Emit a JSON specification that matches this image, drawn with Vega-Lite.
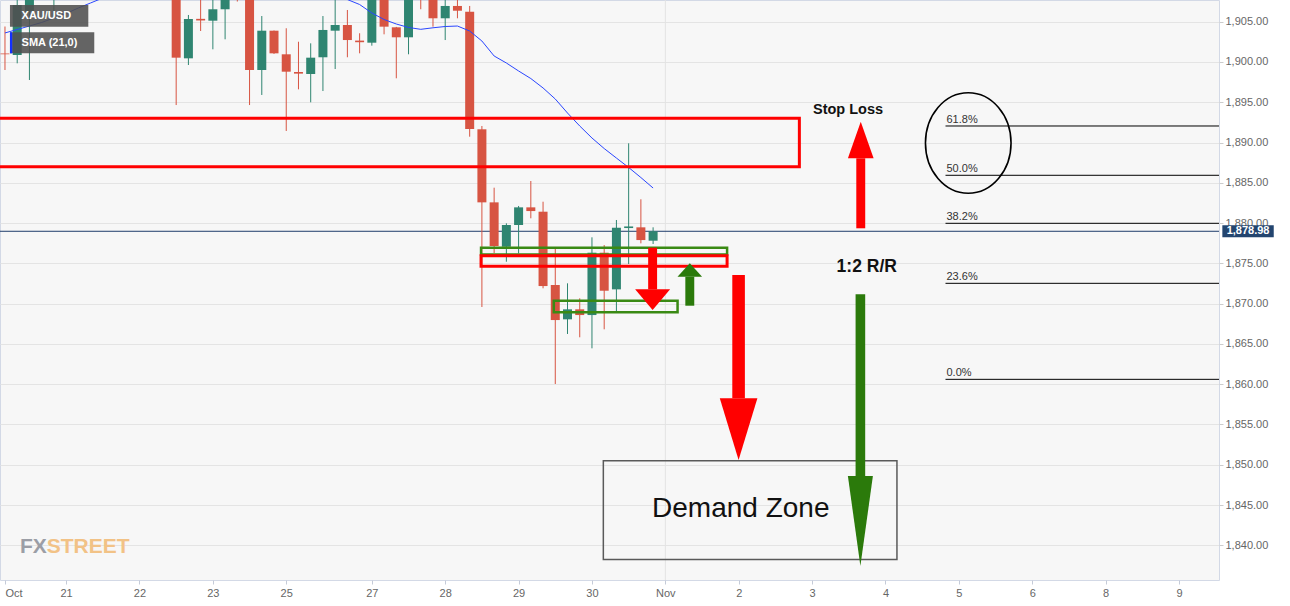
{
  "$schema": "https://vega.github.io/schema/vega-lite/v6.json",
  "width": 1219,
  "height": 580,
  "autosize": {"type": "none"},
  "padding": {"left": 0, "top": 0, "right": 71, "bottom": 26},
  "background": "#ffffff",
  "config": {
    "view": {"fill": "#f7f7f7", "stroke": "#d3d9e6", "strokeWidth": 1},
    "font": "Liberation Sans, Arial, sans-serif",
    "axis": {"domain": false, "tickSize": 4, "labelColor": "#666666", "labelFontSize": 11, "labelFont": "Liberation Sans, Arial, sans-serif"},
    "axisX": {"grid": false, "tickColor": "#c5cbd8", "labelPadding": 3},
    "axisY": {"grid": true, "gridColor": "#e4e4e4", "tickColor": "#cccccc", "labelPadding": 2}
  },
  "datasets": {
    "ohlc": [
      {"i": -1, "o": 1901.05, "h": 1904.4, "l": 1899.0, "c": 1900.95, "sma": 1903.6},
      {"i": 0, "o": 1900.86, "h": 1908.5, "l": 1899.83, "c": 1907.07, "sma": 1904.03},
      {"i": 1, "o": 1906.24, "h": 1910.0, "l": 1897.76, "c": 1909.0, "sma": 1904.46},
      {"i": 2, "o": 1909.0, "h": 1912.0, "l": 1908.2, "c": 1911.0, "sma": 1904.9},
      {"i": 3, "o": 1909.0, "h": 1913.5, "l": 1906.24, "c": 1912.0, "sma": 1905.46},
      {"i": 4, "o": 1912.0, "h": 1915.0, "l": 1910.0, "c": 1913.5, "sma": 1906.01},
      {"i": 5, "o": 1913.5, "h": 1917.0, "l": 1912.0, "c": 1915.0, "sma": 1906.7},
      {"i": 6, "o": 1915.0, "h": 1918.0, "l": 1913.0, "c": 1916.5, "sma": 1907.32},
      {"i": 7, "o": 1916.5, "h": 1919.0, "l": 1914.0, "c": 1915.0, "sma": 1907.94},
      {"i": 8, "o": 1915.0, "h": 1920.0, "l": 1913.0, "c": 1918.0, "sma": 1908.5},
      {"i": 9, "o": 1918.0, "h": 1921.0, "l": 1915.0, "c": 1916.0, "sma": 1909.0},
      {"i": 10, "o": 1916.0, "h": 1918.0, "l": 1911.0, "c": 1913.0, "sma": 1909.5},
      {"i": 11, "o": 1913.0, "h": 1917.0, "l": 1910.0, "c": 1915.0, "sma": 1909.8},
      {"i": 12, "o": 1915.0, "h": 1916.0, "l": 1909.0, "c": 1911.0, "sma": 1910.0},
      {"i": 13, "o": 1911.0, "h": 1912.5, "l": 1894.65, "c": 1900.53, "sma": 1910.1},
      {"i": 14, "o": 1900.45, "h": 1905.83, "l": 1899.62, "c": 1905.33, "sma": 1910.1},
      {"i": 15, "o": 1905.35, "h": 1907.8, "l": 1903.84, "c": 1905.15, "sma": 1910.0},
      {"i": 16, "o": 1905.12, "h": 1908.0, "l": 1901.57, "c": 1906.54, "sma": 1909.9},
      {"i": 17, "o": 1906.54, "h": 1909.5, "l": 1902.81, "c": 1908.5, "sma": 1909.8},
      {"i": 18, "o": 1911.0, "h": 1912.0, "l": 1907.5, "c": 1910.0, "sma": 1909.6},
      {"i": 19, "o": 1909.5, "h": 1910.5, "l": 1894.65, "c": 1899.0, "sma": 1909.4},
      {"i": 20, "o": 1899.0, "h": 1905.7, "l": 1895.9, "c": 1903.88, "sma": 1909.2},
      {"i": 21, "o": 1903.88, "h": 1903.9, "l": 1901.0, "c": 1901.07, "sma": 1909.0},
      {"i": 22, "o": 1900.95, "h": 1904.18, "l": 1891.43, "c": 1898.79, "sma": 1908.8},
      {"i": 23, "o": 1898.75, "h": 1902.51, "l": 1896.6, "c": 1898.55, "sma": 1908.6},
      {"i": 24, "o": 1898.5, "h": 1902.31, "l": 1894.99, "c": 1900.53, "sma": 1908.4},
      {"i": 25, "o": 1900.58, "h": 1905.7, "l": 1896.39, "c": 1903.97, "sma": 1908.2},
      {"i": 26, "o": 1903.88, "h": 1908.0, "l": 1899.12, "c": 1904.59, "sma": 1907.95},
      {"i": 27, "o": 1904.59, "h": 1906.45, "l": 1900.58, "c": 1902.72, "sma": 1907.75},
      {"i": 28, "o": 1902.65, "h": 1903.56, "l": 1901.07, "c": 1902.45, "sma": 1907.13},
      {"i": 29, "o": 1902.39, "h": 1909.5, "l": 1902.02, "c": 1908.5, "sma": 1906.08},
      {"i": 30, "o": 1909.0, "h": 1910.0, "l": 1903.43, "c": 1904.38, "sma": 1905.27},
      {"i": 31, "o": 1904.3, "h": 1904.35, "l": 1897.97, "c": 1903.06, "sma": 1904.71},
      {"i": 32, "o": 1903.06, "h": 1909.5, "l": 1900.95, "c": 1908.5, "sma": 1904.28},
      {"i": 33, "o": 1910.0, "h": 1911.0, "l": 1906.54, "c": 1908.3, "sma": 1904.05},
      {"i": 34, "o": 1908.5, "h": 1909.0, "l": 1904.38, "c": 1905.42, "sma": 1904.24},
      {"i": 35, "o": 1905.42, "h": 1908.0, "l": 1902.72, "c": 1906.95, "sma": 1904.4},
      {"i": 36, "o": 1906.95, "h": 1907.9, "l": 1905.42, "c": 1906.36, "sma": 1904.46},
      {"i": 37, "o": 1906.24, "h": 1906.95, "l": 1890.72, "c": 1891.67, "sma": 1903.84},
      {"i": 38, "o": 1891.64, "h": 1892.05, "l": 1869.58, "c": 1882.57, "sma": 1902.6},
      {"i": 39, "o": 1882.57, "h": 1884.39, "l": 1876.28, "c": 1877.15, "sma": 1900.74},
      {"i": 40, "o": 1877.06, "h": 1879.97, "l": 1875.2, "c": 1879.76, "sma": 1899.87},
      {"i": 41, "o": 1879.76, "h": 1882.12, "l": 1876.24, "c": 1881.95, "sma": 1898.88},
      {"i": 42, "o": 1881.95, "h": 1885.22, "l": 1880.59, "c": 1881.49, "sma": 1897.94},
      {"i": 43, "o": 1881.41, "h": 1882.65, "l": 1871.9, "c": 1872.18, "sma": 1896.77},
      {"i": 44, "o": 1872.31, "h": 1876.86, "l": 1860.02, "c": 1867.96, "sma": 1895.4},
      {"i": 45, "o": 1868.05, "h": 1872.52, "l": 1866.23, "c": 1869.29, "sma": 1893.66},
      {"i": 46, "o": 1869.29, "h": 1870.66, "l": 1865.82, "c": 1868.58, "sma": 1892.05},
      {"i": 47, "o": 1868.58, "h": 1878.23, "l": 1864.45, "c": 1876.32, "sma": 1890.56},
      {"i": 48, "o": 1876.32, "h": 1877.27, "l": 1866.81, "c": 1871.6, "sma": 1889.25},
      {"i": 49, "o": 1871.77, "h": 1880.38, "l": 1868.99, "c": 1879.42, "sma": 1888.07},
      {"i": 50, "o": 1879.38, "h": 1889.9, "l": 1874.92, "c": 1879.58, "sma": 1886.9},
      {"i": 51, "o": 1879.47, "h": 1882.95, "l": 1877.48, "c": 1877.89, "sma": 1885.65},
      {"i": 52, "o": 1877.81, "h": 1879.47, "l": 1877.4, "c": 1878.98, "sma": 1884.35}
    ],
    "last": [{"price": 1878.98}],
    "fib": [
      {"level": "61.8%", "price": 1892.05},
      {"level": "50.0%", "price": 1885.93},
      {"level": "38.2%", "price": 1879.97},
      {"level": "23.6%", "price": 1872.52},
      {"level": "0.0%", "price": 1860.6}
    ],
    "boxes": [
      {"box": "resistance", "kind": "red", "x1": -3, "x2": 63.96, "y1": 1887.0, "y2": 1893.0},
      {"box": "upper", "kind": "green", "x1": 37.93, "x2": 58.05, "y1": 1876.1, "y2": 1876.94},
      {"box": "mid", "kind": "red", "x1": 37.93, "x2": 58.05, "y1": 1874.65, "y2": 1875.95},
      {"box": "lower", "kind": "green", "x1": 43.88, "x2": 54.0, "y1": 1868.92, "y2": 1870.36},
      {"box": "demand", "kind": "zone", "x1": 47.93, "x2": 71.94, "y1": 1838.25, "y2": 1850.5}
    ],
    "shafts": [
      {"arrow": "smallRed", "kind": "red", "x1": 51.595, "x2": 52.325, "y1": 1871.77, "y2": 1876.94},
      {"arrow": "smallGreen", "kind": "green", "x1": 54.635, "x2": 55.365, "y1": 1869.74, "y2": 1873.34},
      {"arrow": "bigRed", "kind": "red", "x1": 58.475, "x2": 59.505, "y1": 1858.24, "y2": 1873.55},
      {"arrow": "bigGreen", "kind": "green", "x1": 68.557, "x2": 69.343, "y1": 1848.6, "y2": 1871.15},
      {"arrow": "stopUp", "kind": "red", "x1": 68.615, "x2": 69.345, "y1": 1879.35, "y2": 1888.04}
    ],
    "heads": [
      {"arrow": "smallRed", "x": 51.96, "y": 1870.49},
      {"arrow": "smallGreen", "x": 55.0, "y": 1874.17},
      {"arrow": "bigRed", "x": 58.99, "y": 1854.41},
      {"arrow": "bigGreen", "x": 68.95, "y": 1843.01},
      {"arrow": "stopUp", "x": 68.98, "y": 1890.31}
    ],
    "notes": [
      {"label": "Stop Loss", "x": 67.94, "y": 1894.03},
      {"label": "1:2 R/R", "x": 69.47, "y": 1874.54},
      {"label": "Demand Zone", "x": 59.17, "y": 1844.46}
    ],
    "panes": [
      {"pane": "XAU/USD", "x1": -0.592, "x2": 5.815, "y1": 1904.38, "y2": 1907.07, "tx": 0.357, "ty": 1905.7},
      {"pane": "SMA (21,0)", "x1": -0.592, "x2": 6.302, "y1": 1901.07, "y2": 1903.68, "tx": 0.357, "ty": 1902.35}
    ],
    "logo": [
      {"t": "FX", "part": "fx", "x": 0.219},
      {"t": "STREET", "part": "street", "x": 2.41}
    ]
  },
  "layer": [
    {
      "data": {"values": [{}]},
      "mark": {"type": "rule", "color": "#e3e3e3", "strokeWidth": 1},
      "encoding": {
        "x": {"datum": 53, "type": "quantitative", "scale": {"domain": [-0.998, 97.866], "nice": false, "zero": false},
          "axis": {"title": null, "labelAlign": {"condition": {"test": "datum.value < 0", "value": "left"}, "value": "center"}, "values": [-0.998, 4, 10, 16, 22, 29, 35, 41, 47, 53, 59, 65, 71, 77, 83, 89, 95], "labelExpr": "datum.value < 0 ? 'Oct' : datum.value == 4 ? '21' : datum.value == 10 ? '22' : datum.value == 16 ? '23' : datum.value == 22 ? '25' : datum.value == 29 ? '27' : datum.value == 35 ? '28' : datum.value == 41 ? '29' : datum.value == 47 ? '30' : datum.value == 53 ? 'Nov' : datum.value == 59 ? '2' : datum.value == 65 ? '3' : datum.value == 71 ? '4' : datum.value == 77 ? '5' : datum.value == 83 ? '6' : datum.value == 89 ? '8' : '9'"}}
      }
    },
    {
      "data": {"name": "last"},
      "mark": {"type": "rule", "color": "#1f3d6b", "strokeWidth": 1},
      "encoding": {
        "y": {"field": "price", "type": "quantitative", "scale": {"domain": [1835.69, 1907.69], "nice": false, "zero": false},
          "axis": {"title": null, "orient": "right", "values": [1840, 1845, 1850, 1855, 1860, 1865, 1870, 1875, 1880, 1885, 1890, 1895, 1900, 1905], "format": ",.2f"}}
      }
    },
    {
      "data": {"name": "ohlc"},
      "mark": {"type": "rule", "strokeWidth": 1, "clip": true},
      "encoding": {
        "x": {"field": "i", "type": "quantitative", "scale": {"domain": [-0.998, 97.866], "nice": false, "zero": false},
          "axis": {"title": null, "labelAlign": {"condition": {"test": "datum.value < 0", "value": "left"}, "value": "center"}, "values": [-0.998, 4, 10, 16, 22, 29, 35, 41, 47, 53, 59, 65, 71, 77, 83, 89, 95], "labelExpr": "datum.value < 0 ? 'Oct' : datum.value == 4 ? '21' : datum.value == 10 ? '22' : datum.value == 16 ? '23' : datum.value == 22 ? '25' : datum.value == 29 ? '27' : datum.value == 35 ? '28' : datum.value == 41 ? '29' : datum.value == 47 ? '30' : datum.value == 53 ? 'Nov' : datum.value == 59 ? '2' : datum.value == 65 ? '3' : datum.value == 71 ? '4' : datum.value == 77 ? '5' : datum.value == 83 ? '6' : datum.value == 89 ? '8' : '9'"}},
        "y": {"field": "l", "type": "quantitative", "scale": {"domain": [1835.69, 1907.69], "nice": false, "zero": false},
          "axis": {"title": null, "orient": "right", "values": [1840, 1845, 1850, 1855, 1860, 1865, 1870, 1875, 1880, 1885, 1890, 1895, 1900, 1905], "format": ",.2f"}},
        "y2": {"field": "h"},
        "color": {"condition": {"test": "datum.c >= datum.o", "value": "#2f8571"}, "value": "#d75442"}
      }
    },
    {
      "data": {"name": "ohlc"},
      "mark": {"type": "bar", "size": 9, "clip": true},
      "encoding": {
        "x": {"field": "i", "type": "quantitative", "scale": {"domain": [-0.998, 97.866], "nice": false, "zero": false},
          "axis": {"title": null, "labelAlign": {"condition": {"test": "datum.value < 0", "value": "left"}, "value": "center"}, "values": [-0.998, 4, 10, 16, 22, 29, 35, 41, 47, 53, 59, 65, 71, 77, 83, 89, 95], "labelExpr": "datum.value < 0 ? 'Oct' : datum.value == 4 ? '21' : datum.value == 10 ? '22' : datum.value == 16 ? '23' : datum.value == 22 ? '25' : datum.value == 29 ? '27' : datum.value == 35 ? '28' : datum.value == 41 ? '29' : datum.value == 47 ? '30' : datum.value == 53 ? 'Nov' : datum.value == 59 ? '2' : datum.value == 65 ? '3' : datum.value == 71 ? '4' : datum.value == 77 ? '5' : datum.value == 83 ? '6' : datum.value == 89 ? '8' : '9'"}},
        "y": {"field": "o", "type": "quantitative", "scale": {"domain": [1835.69, 1907.69], "nice": false, "zero": false},
          "axis": {"title": null, "orient": "right", "values": [1840, 1845, 1850, 1855, 1860, 1865, 1870, 1875, 1880, 1885, 1890, 1895, 1900, 1905], "format": ",.2f"}},
        "y2": {"field": "c"},
        "color": {"condition": {"test": "datum.c >= datum.o", "value": "#2f8571"}, "value": "#d75442"}
      }
    },
    {
      "data": {"name": "ohlc"},
      "mark": {"type": "line", "color": "#2a46ff", "strokeWidth": 1, "clip": true},
      "encoding": {
        "x": {"field": "i", "type": "quantitative", "scale": {"domain": [-0.998, 97.866], "nice": false, "zero": false},
          "axis": {"title": null, "labelAlign": {"condition": {"test": "datum.value < 0", "value": "left"}, "value": "center"}, "values": [-0.998, 4, 10, 16, 22, 29, 35, 41, 47, 53, 59, 65, 71, 77, 83, 89, 95], "labelExpr": "datum.value < 0 ? 'Oct' : datum.value == 4 ? '21' : datum.value == 10 ? '22' : datum.value == 16 ? '23' : datum.value == 22 ? '25' : datum.value == 29 ? '27' : datum.value == 35 ? '28' : datum.value == 41 ? '29' : datum.value == 47 ? '30' : datum.value == 53 ? 'Nov' : datum.value == 59 ? '2' : datum.value == 65 ? '3' : datum.value == 71 ? '4' : datum.value == 77 ? '5' : datum.value == 83 ? '6' : datum.value == 89 ? '8' : '9'"}},
        "y": {"field": "sma", "type": "quantitative", "scale": {"domain": [1835.69, 1907.69], "nice": false, "zero": false},
          "axis": {"title": null, "orient": "right", "values": [1840, 1845, 1850, 1855, 1860, 1865, 1870, 1875, 1880, 1885, 1890, 1895, 1900, 1905], "format": ",.2f"}}
      }
    },
    {
      "data": {"name": "fib"},
      "mark": {"type": "rule", "color": "#000000", "strokeWidth": 1, "clip": true},
      "encoding": {
        "x": {"datum": 75.91, "type": "quantitative", "scale": {"domain": [-0.998, 97.866], "nice": false, "zero": false},
          "axis": {"title": null, "labelAlign": {"condition": {"test": "datum.value < 0", "value": "left"}, "value": "center"}, "values": [-0.998, 4, 10, 16, 22, 29, 35, 41, 47, 53, 59, 65, 71, 77, 83, 89, 95], "labelExpr": "datum.value < 0 ? 'Oct' : datum.value == 4 ? '21' : datum.value == 10 ? '22' : datum.value == 16 ? '23' : datum.value == 22 ? '25' : datum.value == 29 ? '27' : datum.value == 35 ? '28' : datum.value == 41 ? '29' : datum.value == 47 ? '30' : datum.value == 53 ? 'Nov' : datum.value == 59 ? '2' : datum.value == 65 ? '3' : datum.value == 71 ? '4' : datum.value == 77 ? '5' : datum.value == 83 ? '6' : datum.value == 89 ? '8' : '9'"}},
        "x2": {"datum": 99},
        "y": {"field": "price", "type": "quantitative", "scale": {"domain": [1835.69, 1907.69], "nice": false, "zero": false},
          "axis": {"title": null, "orient": "right", "values": [1840, 1845, 1850, 1855, 1860, 1865, 1870, 1875, 1880, 1885, 1890, 1895, 1900, 1905], "format": ",.2f"}}
      }
    },
    {
      "data": {"name": "fib"},
      "mark": {"type": "text", "align": "left", "baseline": "bottom", "dy": -1, "fontSize": 11, "color": "#333333"},
      "encoding": {
        "x": {"datum": 75.99, "type": "quantitative", "scale": {"domain": [-0.998, 97.866], "nice": false, "zero": false},
          "axis": {"title": null, "labelAlign": {"condition": {"test": "datum.value < 0", "value": "left"}, "value": "center"}, "values": [-0.998, 4, 10, 16, 22, 29, 35, 41, 47, 53, 59, 65, 71, 77, 83, 89, 95], "labelExpr": "datum.value < 0 ? 'Oct' : datum.value == 4 ? '21' : datum.value == 10 ? '22' : datum.value == 16 ? '23' : datum.value == 22 ? '25' : datum.value == 29 ? '27' : datum.value == 35 ? '28' : datum.value == 41 ? '29' : datum.value == 47 ? '30' : datum.value == 53 ? 'Nov' : datum.value == 59 ? '2' : datum.value == 65 ? '3' : datum.value == 71 ? '4' : datum.value == 77 ? '5' : datum.value == 83 ? '6' : datum.value == 89 ? '8' : '9'"}},
        "y": {"field": "price", "type": "quantitative", "scale": {"domain": [1835.69, 1907.69], "nice": false, "zero": false},
          "axis": {"title": null, "orient": "right", "values": [1840, 1845, 1850, 1855, 1860, 1865, 1870, 1875, 1880, 1885, 1890, 1895, 1900, 1905], "format": ",.2f"}},
        "text": {"field": "level"}
      }
    },
    {
      "data": {"name": "boxes"},
      "mark": {"type": "rect", "filled": false, "clip": true},
      "encoding": {
        "x": {"field": "x1", "type": "quantitative", "scale": {"domain": [-0.998, 97.866], "nice": false, "zero": false},
          "axis": {"title": null, "labelAlign": {"condition": {"test": "datum.value < 0", "value": "left"}, "value": "center"}, "values": [-0.998, 4, 10, 16, 22, 29, 35, 41, 47, 53, 59, 65, 71, 77, 83, 89, 95], "labelExpr": "datum.value < 0 ? 'Oct' : datum.value == 4 ? '21' : datum.value == 10 ? '22' : datum.value == 16 ? '23' : datum.value == 22 ? '25' : datum.value == 29 ? '27' : datum.value == 35 ? '28' : datum.value == 41 ? '29' : datum.value == 47 ? '30' : datum.value == 53 ? 'Nov' : datum.value == 59 ? '2' : datum.value == 65 ? '3' : datum.value == 71 ? '4' : datum.value == 77 ? '5' : datum.value == 83 ? '6' : datum.value == 89 ? '8' : '9'"}},
        "x2": {"field": "x2"},
        "y": {"field": "y1", "type": "quantitative", "scale": {"domain": [1835.69, 1907.69], "nice": false, "zero": false},
          "axis": {"title": null, "orient": "right", "values": [1840, 1845, 1850, 1855, 1860, 1865, 1870, 1875, 1880, 1885, 1890, 1895, 1900, 1905], "format": ",.2f"}},
        "y2": {"field": "y2"},
        "stroke": {"condition": [{"test": "datum.kind == 'red'", "value": "#ff0000"}, {"test": "datum.kind == 'green'", "value": "#3a8a14"}], "value": "#5a5a5a"},
        "strokeWidth": {"condition": [{"test": "datum.kind == 'red'", "value": 3}, {"test": "datum.kind == 'green'", "value": 2.5}], "value": 1.5}
      }
    },
    {
      "data": {"name": "shafts"},
      "mark": {"type": "rect"},
      "encoding": {
        "x": {"field": "x1", "type": "quantitative", "scale": {"domain": [-0.998, 97.866], "nice": false, "zero": false},
          "axis": {"title": null, "labelAlign": {"condition": {"test": "datum.value < 0", "value": "left"}, "value": "center"}, "values": [-0.998, 4, 10, 16, 22, 29, 35, 41, 47, 53, 59, 65, 71, 77, 83, 89, 95], "labelExpr": "datum.value < 0 ? 'Oct' : datum.value == 4 ? '21' : datum.value == 10 ? '22' : datum.value == 16 ? '23' : datum.value == 22 ? '25' : datum.value == 29 ? '27' : datum.value == 35 ? '28' : datum.value == 41 ? '29' : datum.value == 47 ? '30' : datum.value == 53 ? 'Nov' : datum.value == 59 ? '2' : datum.value == 65 ? '3' : datum.value == 71 ? '4' : datum.value == 77 ? '5' : datum.value == 83 ? '6' : datum.value == 89 ? '8' : '9'"}},
        "x2": {"field": "x2"},
        "y": {"field": "y1", "type": "quantitative", "scale": {"domain": [1835.69, 1907.69], "nice": false, "zero": false},
          "axis": {"title": null, "orient": "right", "values": [1840, 1845, 1850, 1855, 1860, 1865, 1870, 1875, 1880, 1885, 1890, 1895, 1900, 1905], "format": ",.2f"}},
        "y2": {"field": "y2"},
        "color": {"condition": {"test": "datum.kind == 'red'", "value": "#ff0000"}, "value": "#2b7a0b"}
      }
    },
    {
      "data": {"name": "heads"},
      "transform": [{"filter": "datum.arrow == 'smallRed'"}],
      "mark": {"type": "point", "shape": "M -1 -0.591 L 1 -0.591 L 0 0.591 Z", "size": 1225, "filled": true, "color": "#ff0000", "opacity": 1},
      "encoding": {
        "x": {"field": "x", "type": "quantitative", "scale": {"domain": [-0.998, 97.866], "nice": false, "zero": false},
          "axis": {"title": null, "labelAlign": {"condition": {"test": "datum.value < 0", "value": "left"}, "value": "center"}, "values": [-0.998, 4, 10, 16, 22, 29, 35, 41, 47, 53, 59, 65, 71, 77, 83, 89, 95], "labelExpr": "datum.value < 0 ? 'Oct' : datum.value == 4 ? '21' : datum.value == 10 ? '22' : datum.value == 16 ? '23' : datum.value == 22 ? '25' : datum.value == 29 ? '27' : datum.value == 35 ? '28' : datum.value == 41 ? '29' : datum.value == 47 ? '30' : datum.value == 53 ? 'Nov' : datum.value == 59 ? '2' : datum.value == 65 ? '3' : datum.value == 71 ? '4' : datum.value == 77 ? '5' : datum.value == 83 ? '6' : datum.value == 89 ? '8' : '9'"}},
        "y": {"field": "y", "type": "quantitative", "scale": {"domain": [1835.69, 1907.69], "nice": false, "zero": false},
          "axis": {"title": null, "orient": "right", "values": [1840, 1845, 1850, 1855, 1860, 1865, 1870, 1875, 1880, 1885, 1890, 1895, 1900, 1905], "format": ",.2f"}}
      }
    },
    {
      "data": {"name": "heads"},
      "transform": [{"filter": "datum.arrow == 'smallGreen'"}],
      "mark": {"type": "point", "shape": "M -1 0.545 L 1 0.545 L 0 -0.545 Z", "size": 605, "filled": true, "color": "#2b7a0b", "opacity": 1},
      "encoding": {
        "x": {"field": "x", "type": "quantitative", "scale": {"domain": [-0.998, 97.866], "nice": false, "zero": false},
          "axis": {"title": null, "labelAlign": {"condition": {"test": "datum.value < 0", "value": "left"}, "value": "center"}, "values": [-0.998, 4, 10, 16, 22, 29, 35, 41, 47, 53, 59, 65, 71, 77, 83, 89, 95], "labelExpr": "datum.value < 0 ? 'Oct' : datum.value == 4 ? '21' : datum.value == 10 ? '22' : datum.value == 16 ? '23' : datum.value == 22 ? '25' : datum.value == 29 ? '27' : datum.value == 35 ? '28' : datum.value == 41 ? '29' : datum.value == 47 ? '30' : datum.value == 53 ? 'Nov' : datum.value == 59 ? '2' : datum.value == 65 ? '3' : datum.value == 71 ? '4' : datum.value == 77 ? '5' : datum.value == 83 ? '6' : datum.value == 89 ? '8' : '9'"}},
        "y": {"field": "y", "type": "quantitative", "scale": {"domain": [1835.69, 1907.69], "nice": false, "zero": false},
          "axis": {"title": null, "orient": "right", "values": [1840, 1845, 1850, 1855, 1860, 1865, 1870, 1875, 1880, 1885, 1890, 1895, 1900, 1905], "format": ",.2f"}}
      }
    },
    {
      "data": {"name": "heads"},
      "transform": [{"filter": "datum.arrow == 'bigRed'"}],
      "mark": {"type": "point", "shape": "M -1 -1.641 L 1 -1.641 L 0 1.641 Z", "size": 1414, "filled": true, "color": "#ff0000", "opacity": 1},
      "encoding": {
        "x": {"field": "x", "type": "quantitative", "scale": {"domain": [-0.998, 97.866], "nice": false, "zero": false},
          "axis": {"title": null, "labelAlign": {"condition": {"test": "datum.value < 0", "value": "left"}, "value": "center"}, "values": [-0.998, 4, 10, 16, 22, 29, 35, 41, 47, 53, 59, 65, 71, 77, 83, 89, 95], "labelExpr": "datum.value < 0 ? 'Oct' : datum.value == 4 ? '21' : datum.value == 10 ? '22' : datum.value == 16 ? '23' : datum.value == 22 ? '25' : datum.value == 29 ? '27' : datum.value == 35 ? '28' : datum.value == 41 ? '29' : datum.value == 47 ? '30' : datum.value == 53 ? 'Nov' : datum.value == 59 ? '2' : datum.value == 65 ? '3' : datum.value == 71 ? '4' : datum.value == 77 ? '5' : datum.value == 83 ? '6' : datum.value == 89 ? '8' : '9'"}},
        "y": {"field": "y", "type": "quantitative", "scale": {"domain": [1835.69, 1907.69], "nice": false, "zero": false},
          "axis": {"title": null, "orient": "right", "values": [1840, 1845, 1850, 1855, 1860, 1865, 1870, 1875, 1880, 1885, 1890, 1895, 1900, 1905], "format": ",.2f"}}
      }
    },
    {
      "data": {"name": "heads"},
      "transform": [{"filter": "datum.arrow == 'bigGreen'"}],
      "mark": {"type": "point", "shape": "M -1 -3.6 L 1 -3.6 L 0 3.6 Z", "size": 625, "filled": true, "color": "#2b7a0b", "opacity": 1},
      "encoding": {
        "x": {"field": "x", "type": "quantitative", "scale": {"domain": [-0.998, 97.866], "nice": false, "zero": false},
          "axis": {"title": null, "labelAlign": {"condition": {"test": "datum.value < 0", "value": "left"}, "value": "center"}, "values": [-0.998, 4, 10, 16, 22, 29, 35, 41, 47, 53, 59, 65, 71, 77, 83, 89, 95], "labelExpr": "datum.value < 0 ? 'Oct' : datum.value == 4 ? '21' : datum.value == 10 ? '22' : datum.value == 16 ? '23' : datum.value == 22 ? '25' : datum.value == 29 ? '27' : datum.value == 35 ? '28' : datum.value == 41 ? '29' : datum.value == 47 ? '30' : datum.value == 53 ? 'Nov' : datum.value == 59 ? '2' : datum.value == 65 ? '3' : datum.value == 71 ? '4' : datum.value == 77 ? '5' : datum.value == 83 ? '6' : datum.value == 89 ? '8' : '9'"}},
        "y": {"field": "y", "type": "quantitative", "scale": {"domain": [1835.69, 1907.69], "nice": false, "zero": false},
          "axis": {"title": null, "orient": "right", "values": [1840, 1845, 1850, 1855, 1860, 1865, 1870, 1875, 1880, 1885, 1890, 1895, 1900, 1905], "format": ",.2f"}}
      }
    },
    {
      "data": {"name": "heads"},
      "transform": [{"filter": "datum.arrow == 'stopUp'"}],
      "mark": {"type": "point", "shape": "M -1 1.424 L 1 1.424 L 0 -1.424 Z", "size": 660, "filled": true, "color": "#ff0000", "opacity": 1},
      "encoding": {
        "x": {"field": "x", "type": "quantitative", "scale": {"domain": [-0.998, 97.866], "nice": false, "zero": false},
          "axis": {"title": null, "labelAlign": {"condition": {"test": "datum.value < 0", "value": "left"}, "value": "center"}, "values": [-0.998, 4, 10, 16, 22, 29, 35, 41, 47, 53, 59, 65, 71, 77, 83, 89, 95], "labelExpr": "datum.value < 0 ? 'Oct' : datum.value == 4 ? '21' : datum.value == 10 ? '22' : datum.value == 16 ? '23' : datum.value == 22 ? '25' : datum.value == 29 ? '27' : datum.value == 35 ? '28' : datum.value == 41 ? '29' : datum.value == 47 ? '30' : datum.value == 53 ? 'Nov' : datum.value == 59 ? '2' : datum.value == 65 ? '3' : datum.value == 71 ? '4' : datum.value == 77 ? '5' : datum.value == 83 ? '6' : datum.value == 89 ? '8' : '9'"}},
        "y": {"field": "y", "type": "quantitative", "scale": {"domain": [1835.69, 1907.69], "nice": false, "zero": false},
          "axis": {"title": null, "orient": "right", "values": [1840, 1845, 1850, 1855, 1860, 1865, 1870, 1875, 1880, 1885, 1890, 1895, 1900, 1905], "format": ",.2f"}}
      }
    },
    {
      "data": {"name": "notes"},
      "transform": [{"filter": "datum.label == 'Stop Loss'"}],
      "mark": {"type": "text", "fontSize": 14.5, "fontWeight": "bold", "color": "#111111", "align": "center", "baseline": "middle"},
      "encoding": {
        "x": {"field": "x", "type": "quantitative", "scale": {"domain": [-0.998, 97.866], "nice": false, "zero": false},
          "axis": {"title": null, "labelAlign": {"condition": {"test": "datum.value < 0", "value": "left"}, "value": "center"}, "values": [-0.998, 4, 10, 16, 22, 29, 35, 41, 47, 53, 59, 65, 71, 77, 83, 89, 95], "labelExpr": "datum.value < 0 ? 'Oct' : datum.value == 4 ? '21' : datum.value == 10 ? '22' : datum.value == 16 ? '23' : datum.value == 22 ? '25' : datum.value == 29 ? '27' : datum.value == 35 ? '28' : datum.value == 41 ? '29' : datum.value == 47 ? '30' : datum.value == 53 ? 'Nov' : datum.value == 59 ? '2' : datum.value == 65 ? '3' : datum.value == 71 ? '4' : datum.value == 77 ? '5' : datum.value == 83 ? '6' : datum.value == 89 ? '8' : '9'"}},
        "y": {"field": "y", "type": "quantitative", "scale": {"domain": [1835.69, 1907.69], "nice": false, "zero": false},
          "axis": {"title": null, "orient": "right", "values": [1840, 1845, 1850, 1855, 1860, 1865, 1870, 1875, 1880, 1885, 1890, 1895, 1900, 1905], "format": ",.2f"}},
        "text": {"field": "label"}
      }
    },
    {
      "data": {"name": "notes"},
      "transform": [{"filter": "datum.label == '1:2 R/R'"}],
      "mark": {"type": "text", "fontSize": 17.5, "fontWeight": "bold", "color": "#111111", "align": "center", "baseline": "middle"},
      "encoding": {
        "x": {"field": "x", "type": "quantitative", "scale": {"domain": [-0.998, 97.866], "nice": false, "zero": false},
          "axis": {"title": null, "labelAlign": {"condition": {"test": "datum.value < 0", "value": "left"}, "value": "center"}, "values": [-0.998, 4, 10, 16, 22, 29, 35, 41, 47, 53, 59, 65, 71, 77, 83, 89, 95], "labelExpr": "datum.value < 0 ? 'Oct' : datum.value == 4 ? '21' : datum.value == 10 ? '22' : datum.value == 16 ? '23' : datum.value == 22 ? '25' : datum.value == 29 ? '27' : datum.value == 35 ? '28' : datum.value == 41 ? '29' : datum.value == 47 ? '30' : datum.value == 53 ? 'Nov' : datum.value == 59 ? '2' : datum.value == 65 ? '3' : datum.value == 71 ? '4' : datum.value == 77 ? '5' : datum.value == 83 ? '6' : datum.value == 89 ? '8' : '9'"}},
        "y": {"field": "y", "type": "quantitative", "scale": {"domain": [1835.69, 1907.69], "nice": false, "zero": false},
          "axis": {"title": null, "orient": "right", "values": [1840, 1845, 1850, 1855, 1860, 1865, 1870, 1875, 1880, 1885, 1890, 1895, 1900, 1905], "format": ",.2f"}},
        "text": {"field": "label"}
      }
    },
    {
      "data": {"name": "notes"},
      "transform": [{"filter": "datum.label == 'Demand Zone'"}],
      "mark": {"type": "text", "fontSize": 28, "color": "#111111", "align": "center", "baseline": "middle"},
      "encoding": {
        "x": {"field": "x", "type": "quantitative", "scale": {"domain": [-0.998, 97.866], "nice": false, "zero": false},
          "axis": {"title": null, "labelAlign": {"condition": {"test": "datum.value < 0", "value": "left"}, "value": "center"}, "values": [-0.998, 4, 10, 16, 22, 29, 35, 41, 47, 53, 59, 65, 71, 77, 83, 89, 95], "labelExpr": "datum.value < 0 ? 'Oct' : datum.value == 4 ? '21' : datum.value == 10 ? '22' : datum.value == 16 ? '23' : datum.value == 22 ? '25' : datum.value == 29 ? '27' : datum.value == 35 ? '28' : datum.value == 41 ? '29' : datum.value == 47 ? '30' : datum.value == 53 ? 'Nov' : datum.value == 59 ? '2' : datum.value == 65 ? '3' : datum.value == 71 ? '4' : datum.value == 77 ? '5' : datum.value == 83 ? '6' : datum.value == 89 ? '8' : '9'"}},
        "y": {"field": "y", "type": "quantitative", "scale": {"domain": [1835.69, 1907.69], "nice": false, "zero": false},
          "axis": {"title": null, "orient": "right", "values": [1840, 1845, 1850, 1855, 1860, 1865, 1870, 1875, 1880, 1885, 1890, 1895, 1900, 1905], "format": ",.2f"}},
        "text": {"field": "label"}
      }
    },
    {
      "data": {"values": [{}]},
      "mark": {"type": "point", "shape": "M -1 0 A 1 1.175 0 1 1 1 0 A 1 1.175 0 1 1 -1 0 Z", "size": 7327, "filled": false, "stroke": "#000000", "strokeWidth": 1.6, "opacity": 1},
      "encoding": {
        "x": {"datum": 77.77, "type": "quantitative", "scale": {"domain": [-0.998, 97.866], "nice": false, "zero": false},
          "axis": {"title": null, "labelAlign": {"condition": {"test": "datum.value < 0", "value": "left"}, "value": "center"}, "values": [-0.998, 4, 10, 16, 22, 29, 35, 41, 47, 53, 59, 65, 71, 77, 83, 89, 95], "labelExpr": "datum.value < 0 ? 'Oct' : datum.value == 4 ? '21' : datum.value == 10 ? '22' : datum.value == 16 ? '23' : datum.value == 22 ? '25' : datum.value == 29 ? '27' : datum.value == 35 ? '28' : datum.value == 41 ? '29' : datum.value == 47 ? '30' : datum.value == 53 ? 'Nov' : datum.value == 59 ? '2' : datum.value == 65 ? '3' : datum.value == 71 ? '4' : datum.value == 77 ? '5' : datum.value == 83 ? '6' : datum.value == 89 ? '8' : '9'"}},
        "y": {"datum": 1889.94, "type": "quantitative", "scale": {"domain": [1835.69, 1907.69], "nice": false, "zero": false},
          "axis": {"title": null, "orient": "right", "values": [1840, 1845, 1850, 1855, 1860, 1865, 1870, 1875, 1880, 1885, 1890, 1895, 1900, 1905], "format": ",.2f"}}
      }
    },
    {
      "data": {"name": "panes"},
      "mark": {"type": "rect", "color": "#505050", "opacity": 0.88},
      "encoding": {
        "x": {"field": "x1", "type": "quantitative", "scale": {"domain": [-0.998, 97.866], "nice": false, "zero": false},
          "axis": {"title": null, "labelAlign": {"condition": {"test": "datum.value < 0", "value": "left"}, "value": "center"}, "values": [-0.998, 4, 10, 16, 22, 29, 35, 41, 47, 53, 59, 65, 71, 77, 83, 89, 95], "labelExpr": "datum.value < 0 ? 'Oct' : datum.value == 4 ? '21' : datum.value == 10 ? '22' : datum.value == 16 ? '23' : datum.value == 22 ? '25' : datum.value == 29 ? '27' : datum.value == 35 ? '28' : datum.value == 41 ? '29' : datum.value == 47 ? '30' : datum.value == 53 ? 'Nov' : datum.value == 59 ? '2' : datum.value == 65 ? '3' : datum.value == 71 ? '4' : datum.value == 77 ? '5' : datum.value == 83 ? '6' : datum.value == 89 ? '8' : '9'"}},
        "x2": {"field": "x2"},
        "y": {"field": "y1", "type": "quantitative", "scale": {"domain": [1835.69, 1907.69], "nice": false, "zero": false},
          "axis": {"title": null, "orient": "right", "values": [1840, 1845, 1850, 1855, 1860, 1865, 1870, 1875, 1880, 1885, 1890, 1895, 1900, 1905], "format": ",.2f"}},
        "y2": {"field": "y2"}
      }
    },
    {
      "data": {"values": [{}]},
      "mark": {"type": "rect", "color": "#1230ff"},
      "encoding": {
        "x": {"datum": -0.592, "type": "quantitative", "scale": {"domain": [-0.998, 97.866], "nice": false, "zero": false},
          "axis": {"title": null, "labelAlign": {"condition": {"test": "datum.value < 0", "value": "left"}, "value": "center"}, "values": [-0.998, 4, 10, 16, 22, 29, 35, 41, 47, 53, 59, 65, 71, 77, 83, 89, 95], "labelExpr": "datum.value < 0 ? 'Oct' : datum.value == 4 ? '21' : datum.value == 10 ? '22' : datum.value == 16 ? '23' : datum.value == 22 ? '25' : datum.value == 29 ? '27' : datum.value == 35 ? '28' : datum.value == 41 ? '29' : datum.value == 47 ? '30' : datum.value == 53 ? 'Nov' : datum.value == 59 ? '2' : datum.value == 65 ? '3' : datum.value == 71 ? '4' : datum.value == 77 ? '5' : datum.value == 83 ? '6' : datum.value == 89 ? '8' : '9'"}},
        "x2": {"datum": -0.406},
        "y": {"datum": 1901.07, "type": "quantitative", "scale": {"domain": [1835.69, 1907.69], "nice": false, "zero": false},
          "axis": {"title": null, "orient": "right", "values": [1840, 1845, 1850, 1855, 1860, 1865, 1870, 1875, 1880, 1885, 1890, 1895, 1900, 1905], "format": ",.2f"}},
        "y2": {"datum": 1903.68}
      }
    },
    {
      "data": {"name": "panes"},
      "mark": {"type": "text", "align": "left", "baseline": "middle", "fontSize": 11, "fontWeight": "bold", "color": "#ffffff"},
      "encoding": {
        "x": {"field": "tx", "type": "quantitative", "scale": {"domain": [-0.998, 97.866], "nice": false, "zero": false},
          "axis": {"title": null, "labelAlign": {"condition": {"test": "datum.value < 0", "value": "left"}, "value": "center"}, "values": [-0.998, 4, 10, 16, 22, 29, 35, 41, 47, 53, 59, 65, 71, 77, 83, 89, 95], "labelExpr": "datum.value < 0 ? 'Oct' : datum.value == 4 ? '21' : datum.value == 10 ? '22' : datum.value == 16 ? '23' : datum.value == 22 ? '25' : datum.value == 29 ? '27' : datum.value == 35 ? '28' : datum.value == 41 ? '29' : datum.value == 47 ? '30' : datum.value == 53 ? 'Nov' : datum.value == 59 ? '2' : datum.value == 65 ? '3' : datum.value == 71 ? '4' : datum.value == 77 ? '5' : datum.value == 83 ? '6' : datum.value == 89 ? '8' : '9'"}},
        "y": {"field": "ty", "type": "quantitative", "scale": {"domain": [1835.69, 1907.69], "nice": false, "zero": false},
          "axis": {"title": null, "orient": "right", "values": [1840, 1845, 1850, 1855, 1860, 1865, 1870, 1875, 1880, 1885, 1890, 1895, 1900, 1905], "format": ",.2f"}},
        "text": {"field": "pane"}
      }
    },
    {
      "data": {"name": "logo"},
      "mark": {"type": "text", "align": "left", "baseline": "middle", "fontSize": 21, "fontWeight": "bold", "font": "Liberation Sans, Arial, sans-serif"},
      "encoding": {
        "x": {"field": "x", "type": "quantitative", "scale": {"domain": [-0.998, 97.866], "nice": false, "zero": false},
          "axis": {"title": null, "labelAlign": {"condition": {"test": "datum.value < 0", "value": "left"}, "value": "center"}, "values": [-0.998, 4, 10, 16, 22, 29, 35, 41, 47, 53, 59, 65, 71, 77, 83, 89, 95], "labelExpr": "datum.value < 0 ? 'Oct' : datum.value == 4 ? '21' : datum.value == 10 ? '22' : datum.value == 16 ? '23' : datum.value == 22 ? '25' : datum.value == 29 ? '27' : datum.value == 35 ? '28' : datum.value == 41 ? '29' : datum.value == 47 ? '30' : datum.value == 53 ? 'Nov' : datum.value == 59 ? '2' : datum.value == 65 ? '3' : datum.value == 71 ? '4' : datum.value == 77 ? '5' : datum.value == 83 ? '6' : datum.value == 89 ? '8' : '9'"}},
        "y": {"datum": 1839.84, "type": "quantitative", "scale": {"domain": [1835.69, 1907.69], "nice": false, "zero": false},
          "axis": {"title": null, "orient": "right", "values": [1840, 1845, 1850, 1855, 1860, 1865, 1870, 1875, 1880, 1885, 1890, 1895, 1900, 1905], "format": ",.2f"}},
        "text": {"field": "t"},
        "color": {"condition": {"test": "datum.part == 'fx'", "value": "#9b9ea6"}, "value": "#f2c286"}
      }
    },
    {
      "data": {"name": "last"},
      "mark": {"type": "point", "shape": "M -1 -0.235 L 1 -0.235 L 1 0.235 L -1 0.235 Z", "size": 2642, "filled": true, "color": "#23456f", "opacity": 1},
      "encoding": {
        "x": {"datum": 100.65, "type": "quantitative", "scale": {"domain": [-0.998, 97.866], "nice": false, "zero": false},
          "axis": {"title": null, "labelAlign": {"condition": {"test": "datum.value < 0", "value": "left"}, "value": "center"}, "values": [-0.998, 4, 10, 16, 22, 29, 35, 41, 47, 53, 59, 65, 71, 77, 83, 89, 95], "labelExpr": "datum.value < 0 ? 'Oct' : datum.value == 4 ? '21' : datum.value == 10 ? '22' : datum.value == 16 ? '23' : datum.value == 22 ? '25' : datum.value == 29 ? '27' : datum.value == 35 ? '28' : datum.value == 41 ? '29' : datum.value == 47 ? '30' : datum.value == 53 ? 'Nov' : datum.value == 59 ? '2' : datum.value == 65 ? '3' : datum.value == 71 ? '4' : datum.value == 77 ? '5' : datum.value == 83 ? '6' : datum.value == 89 ? '8' : '9'"}},
        "y": {"field": "price", "type": "quantitative", "scale": {"domain": [1835.69, 1907.69], "nice": false, "zero": false},
          "axis": {"title": null, "orient": "right", "values": [1840, 1845, 1850, 1855, 1860, 1865, 1870, 1875, 1880, 1885, 1890, 1895, 1900, 1905], "format": ",.2f"}}
      }
    },
    {
      "data": {"name": "last"},
      "mark": {"type": "text", "align": "center", "baseline": "middle", "fontSize": 11, "fontWeight": "bold", "color": "#ffffff"},
      "encoding": {
        "x": {"datum": 100.65, "type": "quantitative", "scale": {"domain": [-0.998, 97.866], "nice": false, "zero": false},
          "axis": {"title": null, "labelAlign": {"condition": {"test": "datum.value < 0", "value": "left"}, "value": "center"}, "values": [-0.998, 4, 10, 16, 22, 29, 35, 41, 47, 53, 59, 65, 71, 77, 83, 89, 95], "labelExpr": "datum.value < 0 ? 'Oct' : datum.value == 4 ? '21' : datum.value == 10 ? '22' : datum.value == 16 ? '23' : datum.value == 22 ? '25' : datum.value == 29 ? '27' : datum.value == 35 ? '28' : datum.value == 41 ? '29' : datum.value == 47 ? '30' : datum.value == 53 ? 'Nov' : datum.value == 59 ? '2' : datum.value == 65 ? '3' : datum.value == 71 ? '4' : datum.value == 77 ? '5' : datum.value == 83 ? '6' : datum.value == 89 ? '8' : '9'"}},
        "y": {"field": "price", "type": "quantitative", "scale": {"domain": [1835.69, 1907.69], "nice": false, "zero": false},
          "axis": {"title": null, "orient": "right", "values": [1840, 1845, 1850, 1855, 1860, 1865, 1870, 1875, 1880, 1885, 1890, 1895, 1900, 1905], "format": ",.2f"}},
        "text": {"field": "price", "type": "quantitative", "format": ",.2f"}
      }
    }
  ]
}
